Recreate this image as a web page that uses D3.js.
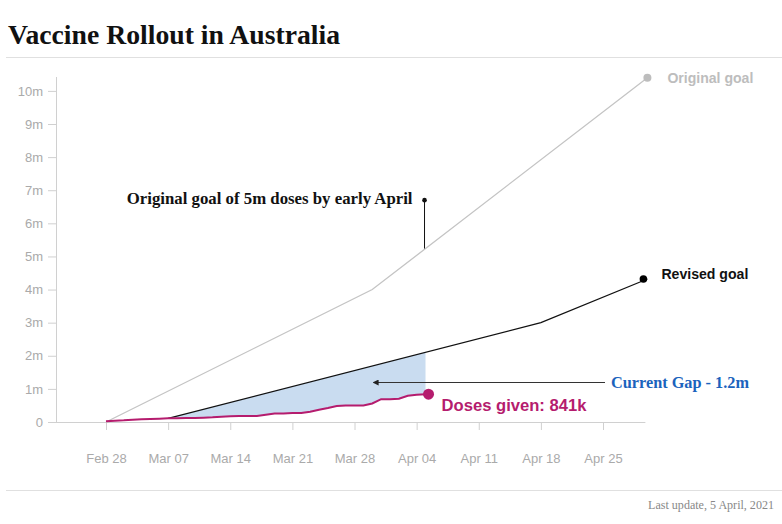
<!DOCTYPE html>
<html>
<head>
<meta charset="utf-8">
<script src="https://cdn.jsdelivr.net/npm/d3@7"></script>
<style>
  html, body { margin: 0; padding: 0; background: #fff; }
  svg { display: block; }
</style>
</head>
<body>
<svg id="chart" width="782" height="524"></svg>
<script>
// ---------------- DATA ----------------
const title = "Vaccine Rollout in Australia";
const footer = "Last update, 5 April, 2021";

const yTickValues = [0, 1, 2, 3, 4, 5, 6, 7, 8, 9, 10];          // millions
const yTickLabels = ["0", "1m", "2m", "3m", "4m", "5m", "6m", "7m", "8m", "9m", "10m"];
const xTickDates = ["2021-02-28", "2021-03-07", "2021-03-14", "2021-03-21", "2021-03-28",
                    "2021-04-04", "2021-04-11", "2021-04-18", "2021-04-25"];
const xTickLabels = ["Feb 28", "Mar 07", "Mar 14", "Mar 21", "Mar 28", "Apr 04", "Apr 11", "Apr 18", "Apr 25"];
const xDomain = ["2021-02-22", "2021-04-30"];

// Original goal (millions)
const originalDates = ["2021-02-28", "2021-03-30", "2021-04-30"];
const originalValues = [0, 4.0, 10.4];

// Revised goal (millions)
const revisedDates = ["2021-03-07", "2021-04-18", "2021-04-30"];
const revisedValues = [0.11, 3.0, 4.32];

// Doses given (millions)
const doseDates = ["2021-02-28","2021-03-01","2021-03-02","2021-03-03","2021-03-04","2021-03-05","2021-03-06",
  "2021-03-07","2021-03-08","2021-03-09","2021-03-10","2021-03-11","2021-03-12","2021-03-13","2021-03-14",
  "2021-03-15","2021-03-16","2021-03-17","2021-03-18","2021-03-19","2021-03-20","2021-03-21","2021-03-22",
  "2021-03-23","2021-03-24","2021-03-25","2021-03-26","2021-03-27","2021-03-28","2021-03-29","2021-03-30",
  "2021-03-31","2021-04-01","2021-04-02","2021-04-03","2021-04-04","2021-04-05"];
const doseValues = [0.02,0.04,0.05,0.07,0.08,0.09,0.10,
  0.11,0.11,0.12,0.12,0.13,0.14,0.16,0.17,
  0.18,0.18,0.18,0.22,0.26,0.26,0.27,0.27,
  0.31,0.37,0.42,0.48,0.50,0.50,0.50,0.56,
  0.69,0.69,0.70,0.79,0.82,0.841];

const gapStartDate = "2021-03-07";
const annotationDate = "2021-04-05";
const annotationValue = 6.7;   // where the annotation dot sits
const gapLabel = "Current Gap - 1.2m";
const gapArrowValue = 1.2;
const doseLabel = "Doses given: 841k";
const originalGoalNote = "Original goal of 5m doses by early April";

// ---------------- SETUP ----------------
const parse = d3.timeParse("%Y-%m-%d");
const W = 782, H = 524;
const svg = d3.select("#chart");
const sans = "'Liberation Sans', Arial, Helvetica, sans-serif";
const serif = "'Liberation Serif', 'Times New Roman', serif";

const plotLeft = 56, plotBottom = 422;
const x = d3.scaleTime().domain(xDomain.map(parse)).range([52.75, 647.4]);
const y = d3.scaleLinear().domain([0, 10.42]).range([plotBottom, 77]);

function fit(sel, target) {
  const node = sel.node();
  const fs = parseFloat(sel.attr("font-size"));
  const len = node.getComputedTextLength();
  if (len > 0) sel.attr("font-size", (fs * target / len).toFixed(2));
  return sel;
}

// Title + rules
fit(svg.append("text").attr("x", 8).attr("y", 44)
  .attr("font-family", serif).attr("font-weight", "bold").attr("font-size", 27)
  .attr("fill", "#111").text(title), 332);
svg.append("line").attr("x1", 6).attr("x2", W).attr("y1", 57.5).attr("y2", 57.5)
  .attr("stroke", "#e0e0e0").attr("stroke-width", 1);
svg.append("line").attr("x1", 6).attr("x2", W).attr("y1", 490.5).attr("y2", 490.5)
  .attr("stroke", "#e0e0e0").attr("stroke-width", 1);
fit(svg.append("text").attr("x", 774).attr("y", 509).attr("text-anchor", "end")
  .attr("font-family", serif).attr("font-size", 11).attr("fill", "#888").text(footer), 126);

// Y axis
const yAxis = d3.axisLeft(y).tickValues(yTickValues)
  .tickFormat((d, i) => yTickLabels[i]).tickSize(8).tickPadding(5).tickSizeOuter(0);
const gy = svg.append("g").attr("transform", `translate(${plotLeft},0)`).call(yAxis);
gy.select(".domain").remove();
gy.append("line").attr("x1", 0.5).attr("x2", 0.5).attr("y1", y.range()[1]).attr("y2", plotBottom)
  .attr("stroke", "#d0d0d0");
gy.selectAll(".tick line").attr("stroke", "#d0d0d0");
gy.selectAll(".tick text").attr("fill", "#aaa").attr("font-family", sans).attr("font-size", 13);

// X axis
const xAxis = d3.axisBottom(x).tickValues(xTickDates.map(parse))
  .tickFormat((d, i) => xTickLabels[i]).tickSize(8).tickPadding(24).tickSizeOuter(0);
const gx = svg.append("g").attr("transform", `translate(0,${plotBottom})`).call(xAxis);
gx.select(".domain").remove();
gx.append("line").attr("x1", plotLeft).attr("x2", x(parse(xDomain[1])) - 2).attr("y1", 0.5).attr("y2", 0.5)
  .attr("stroke", "#d0d0d0");
gx.selectAll(".tick line").attr("stroke", "#d0d0d0");
gx.selectAll(".tick text").attr("fill", "#aaa").attr("font-family", sans).attr("font-size", 13);

// Data objects
const original = originalDates.map((d, i) => ({ date: parse(d), v: originalValues[i] }));
const revised = revisedDates.map((d, i) => ({ date: parse(d), v: revisedValues[i] }));
const doses = doseDates.map((d, i) => ({ date: parse(d), v: doseValues[i] }));
const revisedAt = d3.scaleTime().domain(revised.map(d => d.date)).range(revised.map(d => d.v));

// Gap area
const gapData = doses.filter(d => d.date >= parse(gapStartDate));
svg.append("path").datum(gapData)
  .attr("d", d3.area().x(d => x(d.date)).y0(d => y(d.v)).y1(d => y(revisedAt(d.date))))
  .attr("fill", "#c9dcf0");

const line = d3.line().x(d => x(d.date)).y(d => y(d.v));

// Original goal
svg.append("path").datum(original).attr("d", line)
  .attr("fill", "none").attr("stroke", "#c4c4c4").attr("stroke-width", 1.3);
const oEnd = original[original.length - 1];
svg.append("circle").attr("cx", x(oEnd.date)).attr("cy", y(oEnd.v)).attr("r", 4).attr("fill", "#bdbdbd");
fit(svg.append("text").attr("x", x(oEnd.date) + 20).attr("y", y(oEnd.v) + 5)
  .attr("font-family", sans).attr("font-weight", "bold").attr("font-size", 13)
  .attr("fill", "#bdbdbd").text("Original goal"), 86);

// Revised goal
svg.append("path").datum(revised).attr("d", line)
  .attr("fill", "none").attr("stroke", "#111").attr("stroke-width", 1.2);
const rEnd = revised[revised.length - 1];
svg.append("circle").attr("cx", x(rEnd.date) - 4).attr("cy", y(rEnd.v)).attr("r", 3.8).attr("fill", "#000");
fit(svg.append("text").attr("x", x(rEnd.date) + 14).attr("y", y(rEnd.v) - 0)
  .attr("font-family", sans).attr("font-weight", "bold").attr("font-size", 13)
  .attr("fill", "#111").text("Revised goal"), 87);

// Doses
svg.append("path").datum(doses).attr("d", line)
  .attr("fill", "none").attr("stroke", "#b51c6e").attr("stroke-width", 2);
const dEnd = doses[doses.length - 1];
svg.append("circle").attr("cx", x(dEnd.date) + 3).attr("cy", y(dEnd.v)).attr("r", 5.5).attr("fill", "#b51c6e");
fit(svg.append("text").attr("x", x(dEnd.date) + 16).attr("y", y(dEnd.v) + 17)
  .attr("font-family", sans).attr("font-weight", "bold").attr("font-size", 14)
  .attr("fill", "#b51c6e").text(doseLabel), 145);

// Original goal annotation
const aDate = parse(annotationDate);
const ax = x(aDate) - 1;
svg.append("line").attr("x1", ax).attr("x2", ax)
  .attr("y1", y(annotationValue)).attr("y2", y(d3.scaleTime().domain(original.map(d => d.date)).range(original.map(d => d.v))(aDate)))
  .attr("stroke", "#111").attr("stroke-width", 1);
svg.append("circle").attr("cx", ax).attr("cy", y(annotationValue)).attr("r", 2.3).attr("fill", "#111");
fit(svg.append("text").attr("x", ax - 12).attr("y", y(annotationValue) + 4).attr("text-anchor", "end")
  .attr("font-family", serif).attr("font-weight", "bold").attr("font-size", 15)
  .attr("fill", "#111").text(originalGoalNote), 286);

// Gap arrow
svg.append("defs").append("marker").attr("id", "arrow")
  .attr("viewBox", "0 0 10 10").attr("refX", 1).attr("refY", 5)
  .attr("markerWidth", 6).attr("markerHeight", 6).attr("orient", "auto-start-reverse")
  .append("path").attr("d", "M0,0 L10,5 L0,10 z").attr("fill", "#222");
const gy0 = Math.round(y(gapArrowValue)) + 0.5;
svg.append("line").attr("x1", 605).attr("x2", 378).attr("y1", gy0).attr("y2", gy0)
  .attr("stroke", "#333").attr("stroke-width", 1).attr("marker-end", "url(#arrow)");
fit(svg.append("text").attr("x", 611).attr("y", gy0 + 5)
  .attr("font-family", serif).attr("font-weight", "bold").attr("font-size", 15)
  .attr("fill", "#1b63bd").text(gapLabel), 138);
</script>
</body>
</html>
